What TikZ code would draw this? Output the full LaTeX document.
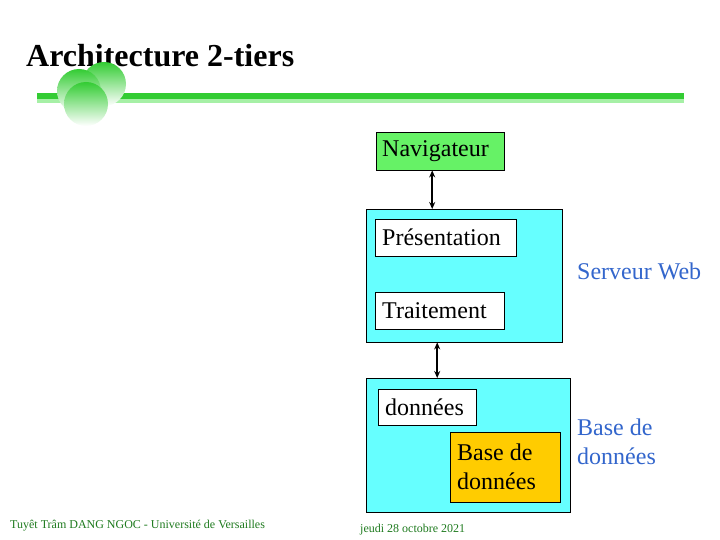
\documentclass[tikz,border=0pt]{standalone}
\usepackage{fontspec}
\setmainfont{Liberation Serif}
\usetikzlibrary{arrows.meta}

\definecolor{barvert}{HTML}{33CC33}
\definecolor{barclair}{HTML}{A6F0A6}
\definecolor{navvert}{HTML}{66F266}
\definecolor{cyanbox}{HTML}{66FFFF}
\definecolor{orbox}{HTML}{FFCC00}
\definecolor{bleutxt}{HTML}{3366CC}
\definecolor{piedvert}{HTML}{1E7A1E}

\begin{document}
\begin{tikzpicture}[x=1pt,y=-1pt,
		every node/.style={font=\fontsize{24}{29}\selectfont,inner sep=1pt},
		tbox/.style={draw=black,fill=white,anchor=north west,inner sep=0pt,align=left},
		cont/.style={draw=black,fill=cyanbox,anchor=north west,inner sep=0pt},
		link/.style={line width=1.8pt,{Stealth[length=7pt,width=6pt]}-{Stealth[length=7pt,width=6pt]}},
		lbl/.style={text=bleutxt,align=left,anchor=west},
		pied/.style={text=piedvert,font=\fontsize{12}{14}\selectfont}]
	\useasboundingbox (0,0) rectangle (720,540);
	
	% titre
	\node[anchor=base west,font=\fontsize{32}{36}\selectfont\bfseries] (titre) at (25,67) {Architecture 2-tiers};
	\fill[barvert] (37,93) rectangle (684,99);
	\fill[barclair] (37,99) rectangle (684,103);
	\shade[top color=barvert,bottom color=white] (104,84) circle (22);
	\shade[top color=barvert,bottom color=white] (79,91) circle (22);
	\shade[top color=barvert,bottom color=white] (86,104) circle (22);
	
	% client
	\node[tbox,fill=navvert,minimum width=128pt,minimum height=38pt] (nav) at (376,132) {};
	\node[anchor=west] at ([xshift=5pt]nav.west) {Navigateur};
	
	% serveur web
	\node[cont,minimum width=196pt,minimum height=133pt] (web) at (366,209) {};
	\node[tbox,minimum width=141pt,minimum height=37pt] (pres) at (375,219) {};
	\node[anchor=west] at ([xshift=6pt]pres.west) {Présentation};
	\node[tbox,minimum width=129pt,minimum height=37pt] (trait) at (375,292) {};
	\node[anchor=west] at ([xshift=6pt]trait.west) {Traitement};
	\node[lbl] (lweb) at (576,271) {Serveur Web};
	
	% base de donnees
	\node[cont,minimum width=204pt,minimum height=134pt] (base) at (366,378) {};
	\node[tbox,minimum width=98pt,minimum height=36pt] (don) at (378,389) {};
	\node[anchor=west] at ([xshift=6pt]don.west) {données};
	\node[tbox,fill=orbox,minimum width=110pt,minimum height=70pt] (bd) at (450,432) {};
	\node[anchor=west,align=left] at ([xshift=6pt]bd.west) {Base de\\données};
	\node[lbl] (lbase) at (576,442) {Base de\\données};
	
	% liens
	\draw[link] ([xshift=-8pt]nav.south) -- ([xshift=-8pt]nav.south |- web.north);
	\draw[link] ([xshift=-27pt]web.south) -- ([xshift=-27pt]web.south |- base.north);
	
	% pied de page
	\node[pied,anchor=base west] (auteur) at (9,528) {Tuyêt Trâm DANG NGOC - Université de Versailles};
	\node[pied,anchor=base west] (date) at (359,532) {jeudi 28 octobre 2021};
\end{tikzpicture}
\end{document}
